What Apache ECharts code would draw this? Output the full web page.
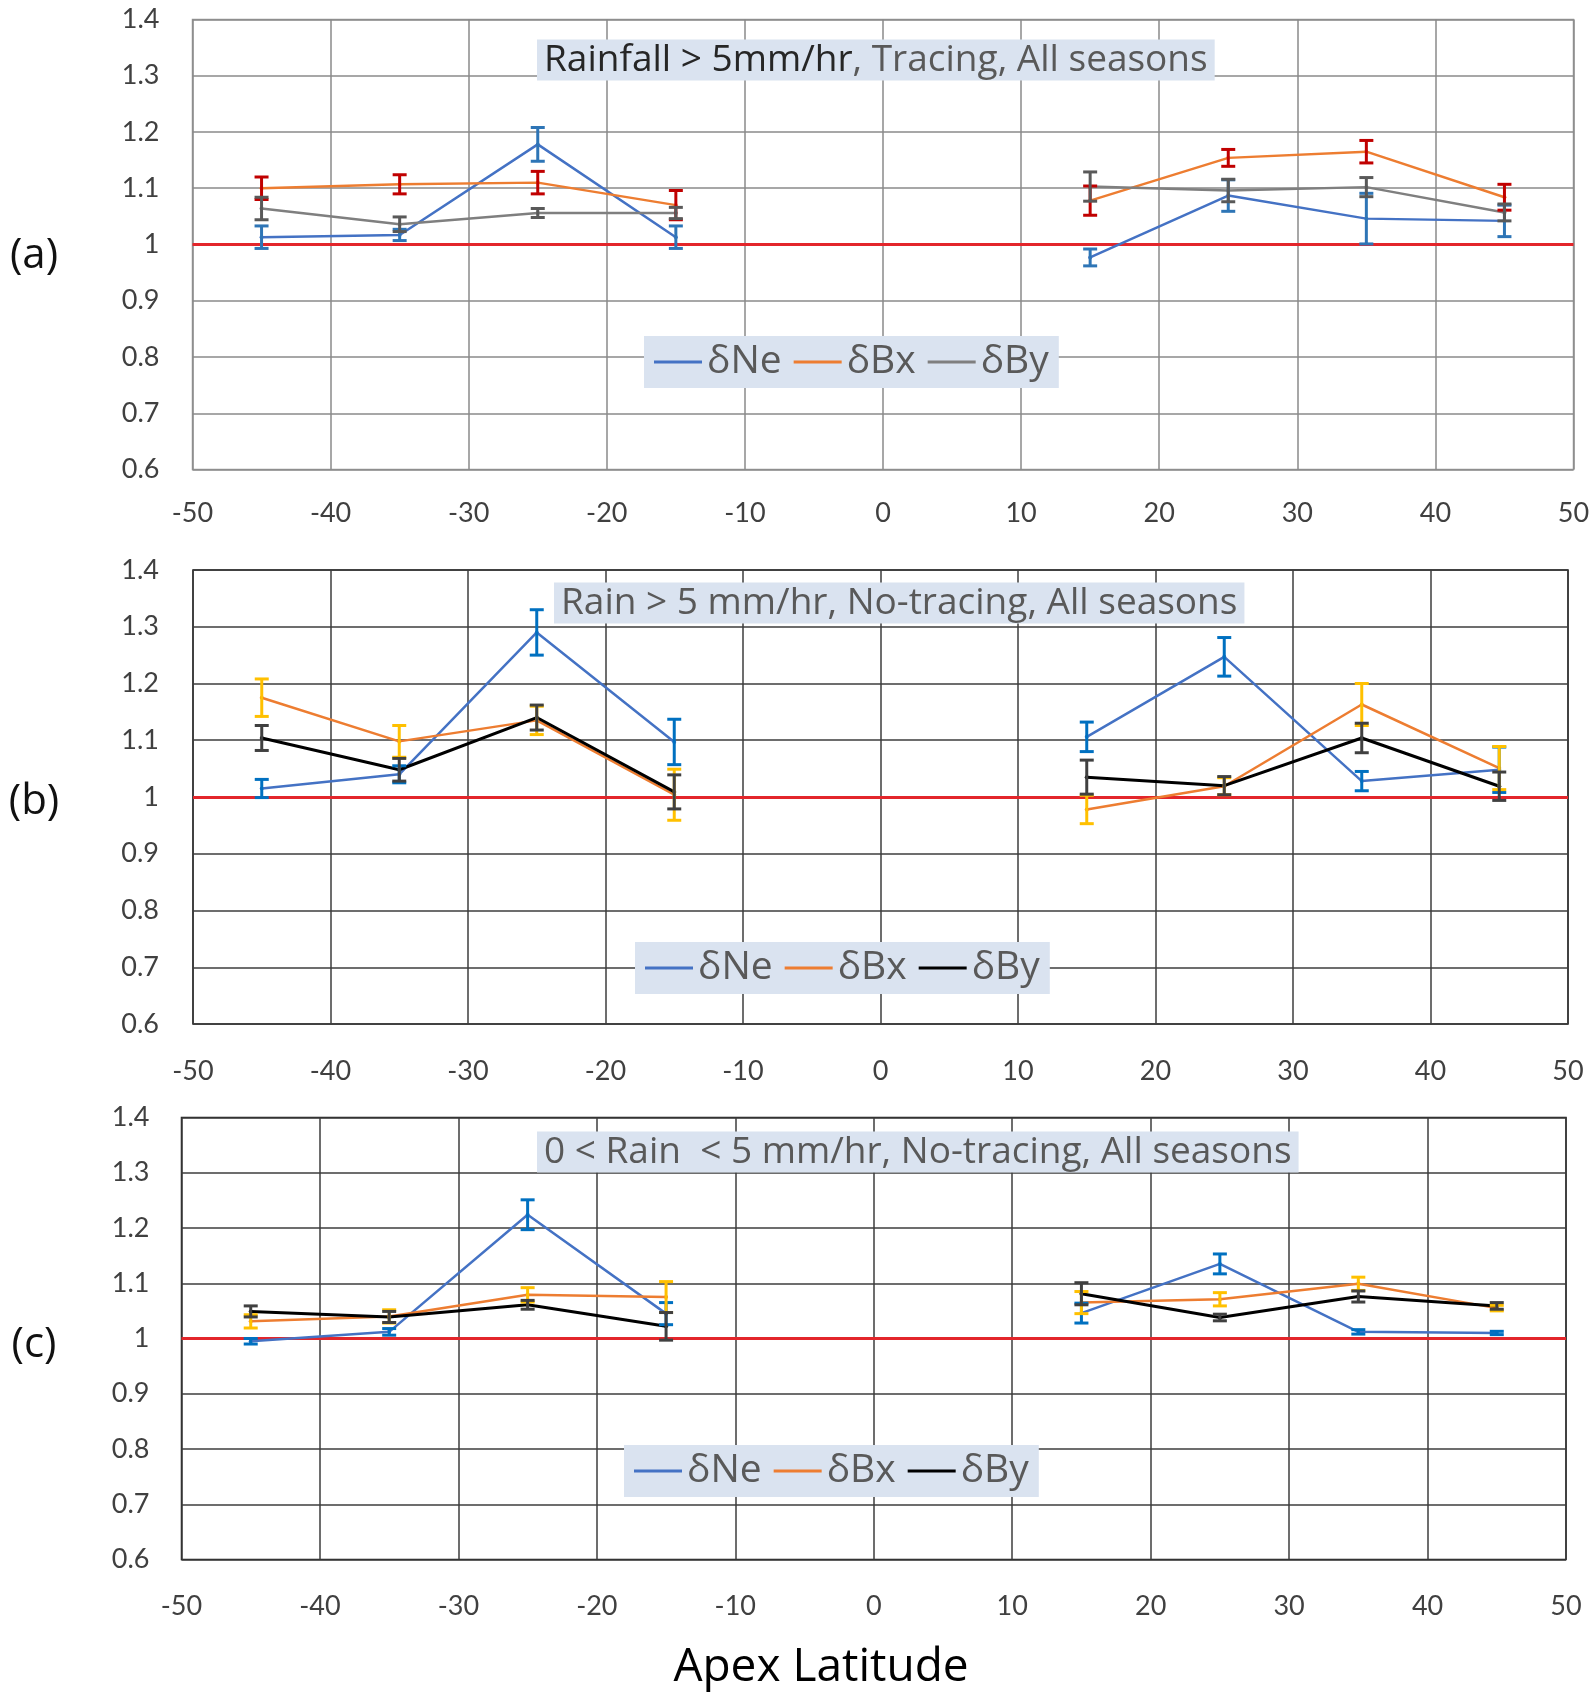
<!DOCTYPE html>
<html><head><meta charset="utf-8">
<script src="https://cdn.jsdelivr.net/npm/echarts@6/dist/echarts.min.js"></script>
<style>html,body{margin:0;padding:0;background:#fff}#c{width:1594px;height:1695px}</style>
</head><body><div id="c"></div>
<script>
// ---- data ----
const lat = [-45, -35, -25, -15, 15, 25, 35, 45];
const seriesNames = ['δNe', 'δBx', 'δBy'];
const panelLabels = ['(a)', '(b)', '(c)'];

// Panel (a): Rainfall > 5mm/hr, Tracing
const aNe    = [1.013, 1.017, 1.178, 1.013, 0.977, 1.087, 1.046, 1.042];
const aNeErr = [0.020, 0.010, 0.030, 0.020, 0.015, 0.028, 0.045, 0.028];
const aBx    = [1.100, 1.107, 1.110, 1.070, 1.078, 1.154, 1.165, 1.084];
const aBxErr = [0.020, 0.017, 0.020, 0.026, 0.026, 0.015, 0.020, 0.023];
const aBy    = [1.064, 1.036, 1.056, 1.056, 1.103, 1.096, 1.102, 1.057];
const aByErr = [0.020, 0.013, 0.008, 0.010, 0.026, 0.020, 0.017, 0.015];

// Panel (b): Rain > 5 mm/hr, No-tracing
const bNe    = [1.015, 1.040, 1.290, 1.097, 1.106, 1.247, 1.028, 1.048];
const bNeErr = [0.016, 0.015, 0.040, 0.040, 0.026, 0.034, 0.017, 0.040];
const bBx    = [1.175, 1.098, 1.135, 1.004, 0.978, 1.019, 1.163, 1.051];
const bBxErr = [0.033, 0.028, 0.025, 0.045, 0.025, 0.015, 0.037, 0.038];
const bBy    = [1.104, 1.048, 1.140, 1.009, 1.035, 1.020, 1.104, 1.019];
const bByErr = [0.022, 0.020, 0.022, 0.030, 0.030, 0.016, 0.026, 0.025];

// Panel (c): 0 < Rain < 5 mm/hr, No-tracing
const cNe    = [0.995, 1.012, 1.224, 1.045, 1.046, 1.135, 1.012, 1.010];
const cNeErr = [0.005, 0.006, 0.027, 0.020, 0.018, 0.018, 0.004, 0.003];
const cBx    = [1.031, 1.040, 1.079, 1.075, 1.065, 1.071, 1.099, 1.055];
const cBxErr = [0.012, 0.012, 0.013, 0.028, 0.020, 0.012, 0.012, 0.005];
const cBy    = [1.049, 1.039, 1.061, 1.022, 1.081, 1.038, 1.076, 1.059];
const cByErr = [0.010, 0.010, 0.008, 0.025, 0.020, 0.006, 0.010, 0.006];

const refValue = 1;
const xMin = -50, xMax = 50, xStep = 10;
const yMin = 0.6, yMax = 1.4, yStep = 0.1;

// ---- layout / style ----
const FONT = 'Lato';
const TFONT = 'Open Sans';
const panels = [
  { vals: [aNe, aBx, aBy], errs: [aNeErr, aBxErr, aByErr],
    grid: { left: 192.5, top: 19.5, width: 1381, height: 450 },
    lineColors: ['#4472C4', '#ED7D31', '#7F7F7F'],
    errColors: ['#2E75B6', '#C00000', '#595959'],
    gridColor: '#8a8a8a', borderColor: '#9a9a9a', xMargin: 30, yMargin: 33,
    title: '{d|Rainfall > 5mm/hr}{g|, Tracing, All seasons}', titlePos: [537, 36],
    legendPos: [644, 336], labelY: 256 },
  { vals: [bNe, bBx, bBy], errs: [bNeErr, bBxErr, bByErr],
    grid: { left: 193, top: 570, width: 1375, height: 454 },
    lineColors: ['#4472C4', '#ED7D31', '#000000'],
    errColors: ['#0070C0', '#FFC000', '#404040'],
    gridColor: '#3c3c3c', borderColor: '#1a1a1a', xMargin: 34, yMargin: 34,
    title: '{g|Rain > 5 mm/hr, No-tracing, All seasons}', titlePos: [554, 579],
    legendPos: [635, 942], labelY: 802 },
  { vals: [cNe, cBx, cBy], errs: [cNeErr, cBxErr, cByErr],
    grid: { left: 181.5, top: 1117.5, width: 1384.5, height: 442 },
    lineColors: ['#4472C4', '#ED7D31', '#000000'],
    errColors: ['#0070C0', '#FFC000', '#404040'],
    gridColor: '#3c3c3c', borderColor: '#1a1a1a', xMargin: 33, yMargin: 32,
    title: '{g|0 < Rain  < 5 mm/hr, No-tracing, All seasons}', titlePos: [537, 1128],
    legendPos: [624, 1445], labelY: 1345 }
];

function lineData(v) {
  const out = [];
  lat.forEach((x, i) => {
    if (i === 4) out.push('-');
    out.push([x, v[i]]);
  });
  return out;
}
function errData(v, e) {
  return lat.map((x, i) => [x, v[i] - e[i], v[i] + e[i]]);
}
function renderErr(color) {
  return function (params, api) {
    const x = api.value(0), lo = api.value(1), hi = api.value(2);
    const a = api.coord([x, hi]), b = api.coord([x, lo]);
    const w = 7;
    const st = { stroke: color, lineWidth: 3 };
    return { type: 'group', children: [
      { type: 'line', shape: { x1: a[0], y1: a[1], x2: b[0], y2: b[1] }, style: st },
      { type: 'line', shape: { x1: a[0] - w, y1: a[1], x2: a[0] + w, y2: a[1] }, style: st },
      { type: 'line', shape: { x1: b[0] - w, y1: b[1], x2: b[0] + w, y2: b[1] }, style: st }
    ]};
  };
}

const grids = [], xAxes = [], yAxes = [], series = [], titles = [], legends = [], graphics = [];
panels.forEach((p, k) => {
  const tag = ' ' + panelLabels[k];
  grids.push(Object.assign({ show: true, borderColor: p.borderColor, borderWidth: 1.5,
    backgroundColor: 'transparent' }, p.grid));
  xAxes.push({ type: 'value', gridIndex: k, min: xMin, max: xMax, interval: xStep,
    axisLine: { show: false }, axisTick: { show: false },
    axisLabel: { margin: p.xMargin, fontSize: 27, fontFamily: FONT, color: '#404040' },
    splitLine: { show: true, lineStyle: { color: p.gridColor, width: 1.5 } } });
  yAxes.push({ type: 'value', gridIndex: k, min: yMin, max: yMax, interval: yStep,
    axisLine: { show: false }, axisTick: { show: false },
    axisLabel: { margin: p.yMargin, fontSize: 27, fontFamily: FONT, color: '#404040' },
    splitLine: { show: true, lineStyle: { color: p.gridColor, width: 1.5 } } });
  seriesNames.forEach((nm, j) => {
    const s = {
      type: 'line', name: nm + tag, xAxisIndex: k, yAxisIndex: k,
      data: lineData(p.vals[j]), connectNulls: false,
      symbol: 'circle', symbolSize: 4, showSymbol: true,
      lineStyle: { color: p.lineColors[j], width: j === 2 && k > 0 ? 3 : 2.5 },
      itemStyle: { color: p.lineColors[j] },
      emphasis: { disabled: true }, z: 3
    };
    if (j === 0) {
      s.markLine = { silent: true, symbol: ['none', 'none'], label: { show: false },
        lineStyle: { color: '#E3262B', width: 3, type: 'solid' },
        data: [{ yAxis: refValue }], z: 2 };
    }
    series.push(s);
    series.push({
      type: 'custom', name: nm + tag + ' err', xAxisIndex: k, yAxisIndex: k,
      data: errData(p.vals[j], p.errs[j]), encode: { x: 0, y: [1, 2] },
      renderItem: renderErr(p.errColors[j]), z: 4, silent: true
    });
  });
  titles.push({ left: p.titlePos[0], top: p.titlePos[1], text: p.title,
    backgroundColor: '#DAE3F0', padding: [2, 7],
    textStyle: { fontWeight: 'normal', rich: {
      d: { fontFamily: TFONT, fontSize: 37, lineHeight: 44, color: '#262626', fontWeight: 'normal' },
      g: { fontFamily: TFONT, fontSize: 37, lineHeight: 44, color: '#595959', fontWeight: 'normal' } } } });
  legends.push({ left: p.legendPos[0], top: p.legendPos[1], orient: 'horizontal',
    backgroundColor: '#DAE3F0', padding: [4, 10], itemGap: 12,
    itemWidth: 48, itemHeight: 3, icon: 'rect',
    data: seriesNames.map(n => n + tag),
    formatter: n => n.replace(/ \(.\)$/, ''),
    textStyle: { fontFamily: TFONT, fontSize: 39, lineHeight: 44, color: '#595959' } });
  graphics.push({ type: 'text', x: 34, y: p.labelY,
    style: { text: panelLabels[k], font: '42px ' + TFONT, fill: '#111',
      align: 'center', verticalAlign: 'middle', textAlign: 'center', textVerticalAlign: 'middle' } });
});
graphics.push({ type: 'text', x: 821, y: 1668,
  style: { text: 'Apex Latitude', font: '46px ' + TFONT, fill: '#000',
    align: 'center', verticalAlign: 'middle', textAlign: 'center', textVerticalAlign: 'middle' } });

const chart = echarts.init(document.getElementById('c'), null, { renderer: 'canvas' });
chart.setOption({
  animation: false, backgroundColor: '#ffffff',
  grid: grids, xAxis: xAxes, yAxis: yAxes, series: series,
  title: titles, legend: legends, graphic: graphics
});
</script></body></html>
